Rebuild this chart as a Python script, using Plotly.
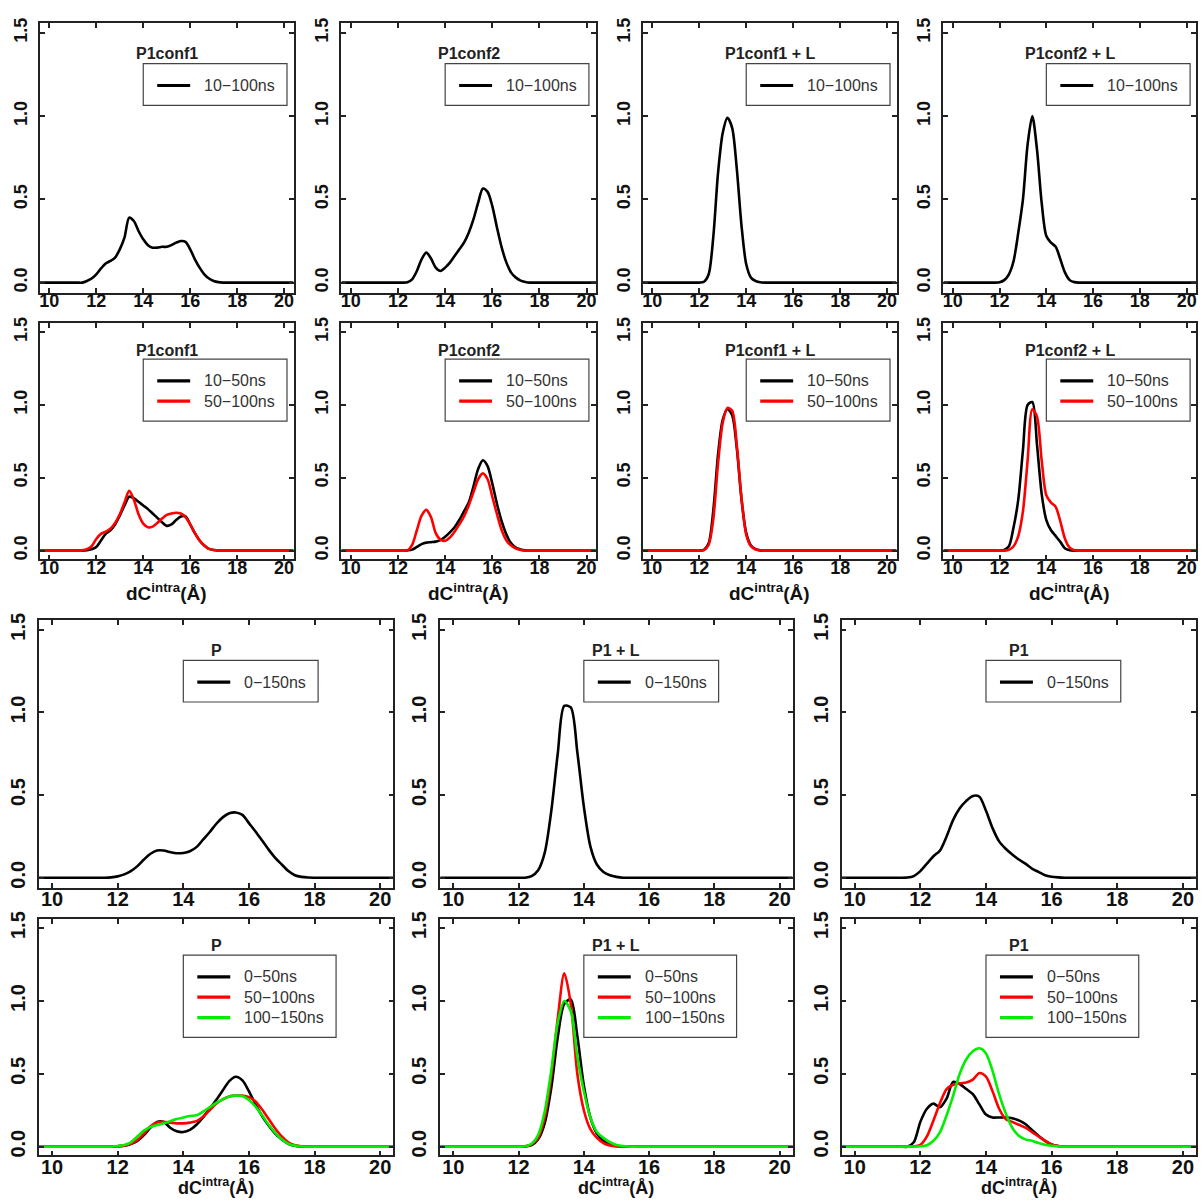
import plotly.graph_objects as go

W, H = 1202, 1203
X_RANGE = [9.6, 20.4]
Y_RANGE = [-0.06, 1.56]
X_TICKS = [10, 12, 14, 16, 18, 20]
Y_TICKS = [0.0, 0.5, 1.0, 1.5]
Y_TICKTEXT = ["0.0", "0.5", "1.0", "1.5"]

# density evaluation grid, dC^intra in Å (11.0 ... 18.0, step 0.2);
# curves are flat zero out to the plot edges
DIST = [round(11.0 + 0.2 * i, 1) for i in range(36)]
X_LO, X_HI = 9.6, 20.4

BLACK, RED, GREEN = "#000000", "#ff0000", "#00ee00"

# ---- P1conf1 ----
p1c1_10_100 = [0, 0, 0, 0.01, 0.025, 0.05, 0.085, 0.115, 0.13, 0.15, 0.2, 0.27, 0.39, 0.37, 0.31, 0.26,
               0.225, 0.21, 0.21, 0.215, 0.215, 0.225, 0.24, 0.25, 0.245, 0.2, 0.14, 0.09, 0.05, 0.025,
               0.01, 0.003, 0, 0, 0, 0]
p1c1_10_50 = [0, 0, 0, 0.003, 0.01, 0.025, 0.07, 0.115, 0.14, 0.18, 0.24, 0.31, 0.37, 0.36, 0.335, 0.31,
              0.285, 0.255, 0.225, 0.195, 0.17, 0.18, 0.21, 0.235, 0.235, 0.18, 0.12, 0.07, 0.035, 0.012,
              0.004, 0, 0, 0, 0, 0]
p1c1_50_100 = [0, 0, 0.002, 0.01, 0.03, 0.08, 0.115, 0.13, 0.15, 0.19, 0.25, 0.33, 0.41, 0.35, 0.25, 0.185,
               0.16, 0.165, 0.19, 0.22, 0.245, 0.255, 0.26, 0.255, 0.23, 0.18, 0.12, 0.07, 0.035, 0.012,
               0.004, 0, 0, 0, 0, 0]

# ---- P1conf2 ----
p1c2_10_100 = [0, 0, 0, 0, 0, 0, 0, 0.002, 0.02, 0.07, 0.14, 0.18, 0.145, 0.09, 0.07, 0.09,
               0.12, 0.16, 0.2, 0.24, 0.3, 0.38, 0.48, 0.565, 0.545, 0.46, 0.33, 0.21, 0.12, 0.06,
               0.03, 0.012, 0.004, 0, 0, 0]
p1c2_10_50 = [0, 0, 0, 0, 0, 0, 0, 0.002, 0.007, 0.025, 0.045, 0.055, 0.058, 0.062, 0.072, 0.095,
              0.125, 0.16, 0.21, 0.27, 0.33, 0.44, 0.56, 0.62, 0.58, 0.46, 0.32, 0.2, 0.11, 0.05,
              0.02, 0.008, 0.002, 0, 0, 0]
p1c2_50_100 = [0, 0, 0, 0, 0, 0, 0, 0.002, 0.04, 0.14, 0.24, 0.28, 0.23, 0.12, 0.075, 0.068,
               0.09, 0.13, 0.18, 0.235, 0.31, 0.40, 0.49, 0.53, 0.49, 0.37, 0.25, 0.14, 0.07, 0.035,
               0.015, 0.005, 0, 0, 0, 0]

# ---- P1conf1 + L ----
p1c1l_10_100 = [0, 0, 0, 0, 0, 0, 0.005, 0.05, 0.28, 0.66, 0.9, 0.99, 0.93, 0.68, 0.34, 0.11,
                0.03, 0.01, 0.002, 0, 0, 0, 0, 0, 0, 0, 0, 0, 0, 0,
                0, 0, 0, 0, 0, 0]
p1c1l_10_50 = [0, 0, 0, 0, 0, 0, 0.005, 0.05, 0.28, 0.66, 0.9, 0.97, 0.93, 0.7, 0.35, 0.12,
               0.035, 0.01, 0.002, 0, 0, 0, 0, 0, 0, 0, 0, 0, 0, 0,
               0, 0, 0, 0, 0, 0]
p1c1l_50_100 = [0, 0, 0, 0, 0, 0, 0.003, 0.04, 0.22, 0.6, 0.88, 0.98, 0.96, 0.72, 0.36, 0.11,
                0.03, 0.008, 0.001, 0, 0, 0, 0, 0, 0, 0, 0, 0, 0, 0,
                0, 0, 0, 0, 0, 0]

# ---- P1conf2 + L ----
p1c2l_10_100 = [0, 0, 0, 0, 0, 0.002, 0.015, 0.05, 0.13, 0.3, 0.5, 0.83, 1.0, 0.8, 0.48, 0.28,
                0.24, 0.215, 0.14, 0.06, 0.015, 0.003, 0, 0, 0, 0, 0, 0, 0, 0,
                0, 0, 0, 0, 0, 0]
p1c2l_10_50 = [0, 0, 0, 0, 0, 0, 0.005, 0.03, 0.16, 0.35, 0.69, 1.0, 1.02, 0.73, 0.39, 0.21,
               0.14, 0.1, 0.06, 0.015, 0.003, 0, 0, 0, 0, 0, 0, 0, 0, 0,
               0, 0, 0, 0, 0, 0]
p1c2l_50_100 = [0, 0, 0, 0, 0, 0, 0, 0.005, 0.03, 0.1, 0.27, 0.62, 0.97, 0.92, 0.62, 0.38,
                0.33, 0.3, 0.2, 0.08, 0.02, 0.003, 0, 0, 0, 0, 0, 0, 0, 0,
                0, 0, 0, 0, 0, 0]

# ---- P ----
p_0_150 = [0, 0, 0, 0, 0.002, 0.008, 0.02, 0.04, 0.07, 0.11, 0.145, 0.165, 0.165, 0.155, 0.148, 0.15,
           0.16, 0.185, 0.23, 0.275, 0.325, 0.365, 0.39, 0.395, 0.38, 0.33, 0.28, 0.225, 0.17, 0.12,
           0.08, 0.04, 0.015, 0.005, 0.001, 0]
p_0_50 = [0, 0, 0, 0, 0, 0.003, 0.007, 0.018, 0.04, 0.08, 0.13, 0.17, 0.17, 0.13, 0.105, 0.1,
          0.115, 0.15, 0.2, 0.26, 0.32, 0.385, 0.45, 0.48, 0.455, 0.38, 0.29, 0.21, 0.145, 0.09,
          0.05, 0.02, 0.006, 0.001, 0, 0]
p_50_100 = [0, 0, 0, 0, 0, 0.003, 0.007, 0.02, 0.045, 0.09, 0.14, 0.165, 0.17, 0.165, 0.16, 0.16,
            0.165, 0.175, 0.205, 0.25, 0.295, 0.325, 0.345, 0.35, 0.35, 0.34, 0.31, 0.255, 0.19, 0.125,
            0.07, 0.03, 0.01, 0.002, 0, 0]
p_100_150 = [0, 0, 0, 0, 0, 0.004, 0.012, 0.03, 0.07, 0.11, 0.135, 0.148, 0.16, 0.175, 0.19, 0.2,
             0.21, 0.215, 0.24, 0.27, 0.3, 0.325, 0.345, 0.35, 0.348, 0.32, 0.275, 0.215, 0.15, 0.095,
             0.05, 0.02, 0.007, 0.001, 0, 0]

# ---- P1 + L ----
p1l_0_150 = [0, 0, 0, 0, 0, 0, 0, 0.01, 0.045, 0.15, 0.4, 0.75, 1.04, 1.03, 0.76, 0.43,
             0.19, 0.08, 0.035, 0.015, 0.005, 0, 0, 0, 0, 0, 0, 0, 0, 0,
             0, 0, 0, 0, 0, 0]
p1l_0_50 = [0, 0, 0, 0, 0, 0, 0.002, 0.01, 0.05, 0.16, 0.4, 0.75, 0.98, 1.01, 0.76, 0.42,
            0.2, 0.09, 0.04, 0.015, 0.005, 0, 0, 0, 0, 0, 0, 0, 0, 0,
            0, 0, 0, 0, 0, 0]
p1l_50_100 = [0, 0, 0, 0, 0, 0, 0.002, 0.015, 0.06, 0.2, 0.48, 0.88, 1.19, 0.98, 0.5, 0.25,
              0.12, 0.06, 0.025, 0.008, 0.002, 0, 0, 0, 0, 0, 0, 0, 0, 0,
              0, 0, 0, 0, 0, 0]
p1l_100_150 = [0, 0, 0, 0, 0, 0, 0.003, 0.02, 0.08, 0.24, 0.52, 0.85, 1.0, 0.93, 0.62, 0.38,
               0.2, 0.1, 0.06, 0.03, 0.012, 0.004, 0, 0, 0, 0, 0, 0, 0, 0,
               0, 0, 0, 0, 0, 0]

# ---- P1 ----
p1_0_150 = [0, 0, 0, 0.001, 0.01, 0.04, 0.085, 0.13, 0.165, 0.25, 0.35, 0.42, 0.465, 0.495, 0.49, 0.405,
            0.3, 0.22, 0.175, 0.14, 0.11, 0.085, 0.055, 0.035, 0.015, 0.006, 0.002, 0, 0, 0,
            0, 0, 0, 0, 0, 0]
p1_0_50 = [0, 0, 0, 0, 0.03, 0.17, 0.26, 0.295, 0.27, 0.33, 0.445, 0.43, 0.395, 0.36, 0.29, 0.22,
           0.2, 0.2, 0.2, 0.195, 0.18, 0.155, 0.115, 0.075, 0.04, 0.015, 0.005, 0, 0, 0,
           0, 0, 0, 0, 0, 0]
p1_50_100 = [0, 0, 0, 0, 0.002, 0.012, 0.07, 0.18, 0.3, 0.395, 0.425, 0.435, 0.44, 0.46, 0.505, 0.48,
             0.38, 0.26, 0.19, 0.17, 0.15, 0.13, 0.1, 0.07, 0.04, 0.015, 0.005, 0, 0, 0,
             0, 0, 0, 0, 0, 0]
p1_100_150 = [0, 0, 0, 0, 0, 0.003, 0.01, 0.04, 0.1, 0.215, 0.35, 0.5, 0.6, 0.655, 0.675, 0.64,
              0.52, 0.36, 0.23, 0.13, 0.075, 0.05, 0.04, 0.025, 0.013, 0.006, 0.002, 0, 0, 0,
              0, 0, 0, 0, 0, 0]

# panel frames in pixels
TOP_COLS = [(39, 293), (341, 596), (643, 897), (944, 1197)]
BOT_COLS = [(38, 393), (440, 793), (842, 1197)]
ROWS = [(15, 287), (318, 556), (617, 887), (919, 1157)]

# per-row text placement: tick font size, x-label standoff, title offset from top,
# axis-title offset below the frame and its font size
ROW_STYLE = {
    0: dict(fs=18, xstand=-9, tdy=31, xtdy=32, xtfs=19),
    1: dict(fs=18, xstand=-9, tdy=27, xtdy=33, xtfs=19),
    2: dict(fs=20, xstand=-7, tdy=31, xtdy=30, xtfs=18),
    3: dict(fs=20, xstand=-7, tdy=26, xtdy=31, xtfs=18),
}

panels = [
    dict(title="P1conf1", col=TOP_COLS[0], r=0, lw=144,
         series=[("10−100ns", BLACK, p1c1_10_100)]),
    dict(title="P1conf2", col=TOP_COLS[1], r=0, lw=144,
         series=[("10−100ns", BLACK, p1c2_10_100)]),
    dict(title="P1conf1 + L", col=TOP_COLS[2], r=0, lw=144,
         series=[("10−100ns", BLACK, p1c1l_10_100)]),
    dict(title="P1conf2 + L", col=TOP_COLS[3], r=0, lw=144,
         series=[("10−100ns", BLACK, p1c2l_10_100)]),
    dict(title="P1conf1", col=TOP_COLS[0], r=1, lw=144, xt=True,
         series=[("10−50ns", BLACK, p1c1_10_50), ("50−100ns", RED, p1c1_50_100)]),
    dict(title="P1conf2", col=TOP_COLS[1], r=1, lw=144, xt=True,
         series=[("10−50ns", BLACK, p1c2_10_50), ("50−100ns", RED, p1c2_50_100)]),
    dict(title="P1conf1 + L", col=TOP_COLS[2], r=1, lw=144, xt=True,
         series=[("10−50ns", BLACK, p1c1l_10_50), ("50−100ns", RED, p1c1l_50_100)]),
    dict(title="P1conf2 + L", col=TOP_COLS[3], r=1, lw=144, xt=True,
         series=[("10−50ns", BLACK, p1c2l_10_50), ("50−100ns", RED, p1c2l_50_100)]),
    dict(title="P", col=BOT_COLS[0], r=2, lw=135,
         series=[("0−150ns", BLACK, p_0_150)]),
    dict(title="P1 + L", col=BOT_COLS[1], r=2, lw=135,
         series=[("0−150ns", BLACK, p1l_0_150)]),
    dict(title="P1", col=BOT_COLS[2], r=2, lw=135,
         series=[("0−150ns", BLACK, p1_0_150)]),
    dict(title="P", col=BOT_COLS[0], r=3, lw=153, xt=True,
         series=[("0−50ns", BLACK, p_0_50), ("50−100ns", RED, p_50_100), ("100−150ns", GREEN, p_100_150)]),
    dict(title="P1 + L", col=BOT_COLS[1], r=3, lw=153, xt=True,
         series=[("0−50ns", BLACK, p1l_0_50), ("50−100ns", RED, p1l_50_100), ("100−150ns", GREEN, p1l_100_150)]),
    dict(title="P1", col=BOT_COLS[2], r=3, lw=153, xt=True,
         series=[("0−50ns", BLACK, p1_0_50), ("50−100ns", RED, p1_50_100), ("100−150ns", GREEN, p1_100_150)]),
]

FONT = "Liberation Sans, Arial, sans-serif"
FRAME = "#222222"

fig = go.Figure()
layout = dict(width=W, height=H, margin=dict(l=0, r=0, t=0, b=0),
              paper_bgcolor="white", plot_bgcolor="white", showlegend=False)
shapes, annotations = [], []


def px_to_paper(px, py):
    return px / W, 1 - py / H


for i, p in enumerate(panels):
    n = i + 1
    sfx = "" if n == 1 else str(n)
    st = ROW_STYLE[p["r"]]
    L, R = p["col"]
    T, B = ROWS[p["r"]]

    def data_to_px(x, y, L=L, R=R, T=T, B=B):
        fx = (x - X_RANGE[0]) / (X_RANGE[1] - X_RANGE[0])
        fy = (y - Y_RANGE[0]) / (Y_RANGE[1] - Y_RANGE[0])
        return L + fx * (R - L), B - fy * (B - T)

    tick_font = dict(family=FONT, size=st["fs"], color="#111111", weight="bold")
    layout["xaxis" + sfx] = dict(
        domain=[L / W, R / W], range=X_RANGE, anchor="y" + sfx,
        tickvals=X_TICKS, ticktext=[str(v) for v in X_TICKS],
        ticks="inside", ticklen=5, tickwidth=1.5, tickcolor=FRAME,
        showline=True, linecolor=FRAME, linewidth=1.6, mirror="ticks",
        showgrid=False, zeroline=False, tickfont=tick_font, ticklabelstandoff=st["xstand"],
    )
    layout["yaxis" + sfx] = dict(
        domain=[1 - B / H, 1 - T / H], range=Y_RANGE, anchor="x" + sfx,
        tickvals=Y_TICKS, ticktext=Y_TICKTEXT, tickangle=-90,
        ticks="inside", ticklen=5, tickwidth=1.5, tickcolor=FRAME,
        showline=True, linecolor=FRAME, linewidth=1.6, mirror="ticks",
        showgrid=False, zeroline=False, tickfont=tick_font, ticklabelstandoff=4,
    )

    for label, color, vals in p["series"]:
        fig.add_trace(go.Scatter(
            x=[X_LO] + DIST + [X_HI], y=[0] + vals + [0],
            xaxis="x" + sfx, yaxis="y" + sfx, mode="lines",
            line=dict(color=color, width=2.6, shape="spline", smoothing=0.8),
            name=label, hoverinfo="skip",
        ))

    # panel label
    tx, _ = data_to_px(15, 0)
    ax_, ay_ = px_to_paper(tx, T + st["tdy"])
    annotations.append(dict(text=p["title"], x=ax_, y=ay_, xref="paper", yref="paper",
                            showarrow=False, xanchor="center", yanchor="middle",
                            font=dict(family=FONT, size=16, color="#222222", weight="bold")))

    # legend box
    lx, ly = data_to_px(14, 1.315)
    nitem = len(p["series"])
    lh = 22 + (nitem - 1) * 20.5 + 20
    x0, y1 = px_to_paper(lx, ly)
    x1, y0 = px_to_paper(lx + p["lw"], ly + lh)
    shapes.append(dict(type="rect", xref="paper", yref="paper", x0=x0, x1=x1, y0=y0, y1=y1,
                       line=dict(color="#444444", width=1.2), fillcolor="rgba(0,0,0,0)"))
    for k, (label, color, _) in enumerate(p["series"]):
        iy = ly + 22 + k * 20.5
        sx0, sy = px_to_paper(lx + 14, iy)
        sx1, _ = px_to_paper(lx + 47, iy)
        shapes.append(dict(type="line", xref="paper", yref="paper", x0=sx0, x1=sx1, y0=sy, y1=sy,
                           line=dict(color=color, width=3.2)))
        tx0, _ = px_to_paper(lx + 59, iy)
        annotations.append(dict(text=label, x=tx0, y=sy, xref="paper", yref="paper",
                                showarrow=False, xanchor="left", yanchor="middle",
                                font=dict(family=FONT, size=16, color="#333333")))

    # x-axis title under the lower row of each block
    if p.get("xt"):
        cx, cy = px_to_paper((L + R) / 2, B + st["xtdy"])
        annotations.append(dict(text="dC<sup>intra</sup>(Å)", x=cx, y=cy, xref="paper", yref="paper",
                                showarrow=False, xanchor="center", yanchor="middle",
                                font=dict(family=FONT, size=st["xtfs"], color="#111111", weight="bold")))

layout["shapes"] = shapes
layout["annotations"] = annotations
fig.update_layout(**layout)
fig.write_html("out.html")
